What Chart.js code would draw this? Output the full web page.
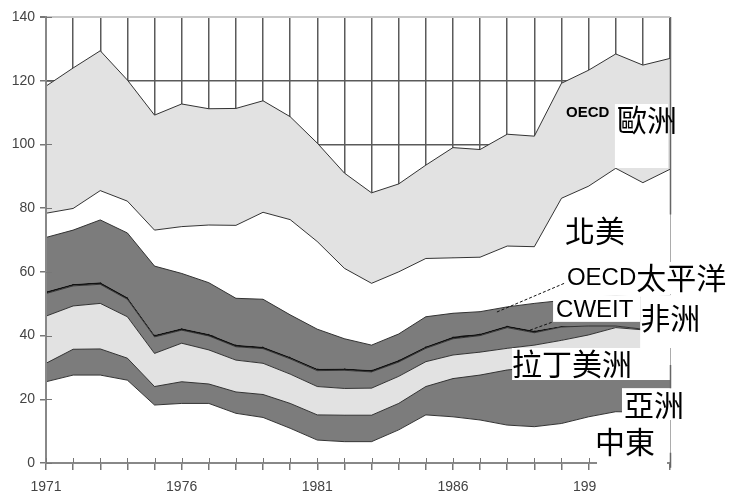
<!DOCTYPE html>
<html>
<head>
<meta charset="utf-8">
<script src="https://cdn.jsdelivr.net/npm/chart.js@4.4.1/dist/chart.umd.min.js"></script>
<style>
  body { margin: 0; background: #fff; }
  canvas { display: block; }
</style>
</head>
<body>
<canvas id="energia" width="733" height="495"></canvas>
<script>
// years on the x axis and which ones get a label
var years = [1971, 1972, 1973, 1974, 1975, 1976, 1977, 1978, 1979, 1980, 1981, 1982,
             1983, 1984, 1985, 1986, 1987, 1988, 1989, 1990, 1991, 1992, 1993, 1994];
var tickYears = [1971, 1976, 1981, 1986, 1991];
var yTicks = [0, 20, 40, 60, 80, 100, 120, 140];

// band thickness per region, bottom to top
var middleEast   = [25.5, 27.6, 27.6, 26.0, 18.2, 18.7, 18.7, 15.6, 14.3, 10.9, 7.2, 6.7, 6.7, 10.4, 15.1, 14.5, 13.5, 11.9, 11.4, 12.4, 14.5, 16.1, 16.0, 16.0];
var asia         = [5.8, 8.1, 8.2, 6.9, 5.8, 6.8, 6.1, 6.7, 7.2, 7.8, 7.9, 8.3, 8.3, 8.3, 8.9, 12.0, 14.1, 17.3, 18.6, 18.6, 17.5, 16.9, 17.0, 17.0];
var latinAmerica = [14.8, 13.6, 14.3, 13.0, 10.4, 12.1, 10.7, 10.0, 9.8, 9.2, 8.9, 8.4, 8.5, 8.5, 7.8, 7.4, 7.2, 6.8, 7.0, 7.5, 8.2, 9.5, 8.8, 9.0];
var africa       = [7.1, 6.3, 6.0, 5.5, 5.2, 4.1, 4.4, 4.2, 4.6, 4.8, 5.0, 5.7, 5.1, 4.5, 4.2, 5.1, 5.2, 6.5, 3.9, 4.2, 2.8, 0.5, 0.2, 0.2];
var cweit        = [0.6, 0.6, 0.6, 0.6, 0.6, 0.6, 0.6, 0.6, 0.6, 0.6, 0.6, 0.6, 0.6, 0.6, 0.6, 0.6, 0.6, 0.6, 0.6, 0.3, 0, 0, 0, 0];
var oecdPacific  = [17.0, 16.9, 19.6, 20.2, 21.6, 17.2, 16.1, 14.6, 14.9, 13.2, 12.4, 9.3, 7.8, 8.2, 9.3, 7.4, 6.9, 5.9, 8.6, 8.0, 9.0, 9.5, 10.0, 10.3];
var northAmerica = [7.6, 6.8, 9.2, 10.0, 11.3, 14.7, 18.1, 22.9, 27.3, 29.9, 27.5, 22.1, 19.4, 19.5, 18.3, 17.4, 17.1, 19.1, 17.8, 32.1, 34.9, 40.0, 36.0, 39.7];
var oecdEurope   = [39.9, 44.1, 43.9, 38.0, 36.1, 38.5, 36.5, 36.7, 35.0, 32.3, 30.9, 29.9, 28.4, 27.6, 29.3, 34.6, 33.8, 35.1, 34.7, 36.1, 36.4, 35.9, 36.9, 34.8];

var DARK = '#7c7c7c';
var LIGHT = '#e2e2e2';

var bands = [
  { label: '中東', values: middleEast, color: '#ffffff' },
  { label: '亞洲', values: asia, color: DARK },
  { label: '拉丁美洲', values: latinAmerica, color: LIGHT },
  { label: '非洲', values: africa, color: DARK },
  { label: 'CWEIT', values: cweit, color: '#111111', line: 0 },
  { label: 'OECD太平洋', values: oecdPacific, color: DARK },
  { label: '北美', values: northAmerica, color: '#ffffff' },
  { label: 'OECD歐洲', values: oecdEurope, color: LIGHT }
];

// running totals so each band fills down to the one below it
var running = years.map(function () { return 0; });
var datasets = bands.map(function (b, i) {
  running = running.map(function (s, j) { return s + b.values[j]; });
  return {
    label: b.label,
    data: running.slice(),
    backgroundColor: b.color,
    borderColor: '#333',
    borderWidth: b.line === 0 ? 0 : 1,
    fill: i === 0 ? 'origin' : '-1',
    pointRadius: 0,
    tension: 0
  };
});

var CJK = '30px "Noto Sans CJK TC"';
var LAT = '24px "Liberation Sans"';

// white label patches: [from year, to year, top value, bottom value]
var boxes = [
  [1991.97, 1993.93, 112.7, 92.6],
  [1989.69, 1992.9, 52.7, 44.3],
  [1992.9, 1995.1, 52.7, 36.1],
  [1988.18, 1994.0, 36.1, 26.05],
  [1992.23, 1994.07, 23.5, 13.5],
  [1990.02, 1996.32, 63.1, 53.0],
  [1991.31, 1993.89, 11.9, -10]
];

var labelSpec = [
  { x: 1990.17, y: 109.9, parts: [['OECD', 'bold 15px "Liberation Sans"']] },
  { x: 1992.05, y: 107.7, parts: [['歐洲', CJK]] },
  { x: 1990.13, y: 72.8, parts: [['北美', CJK]] },
  { x: 1990.2, y: 58.1, parts: [['OECD', LAT], ['太平洋', CJK]] },
  { x: 1989.8, y: 48.0, parts: [['CWEIT', LAT]] },
  { x: 1992.9, y: 45.5, parts: [['非洲', CJK]] },
  { x: 1988.18, y: 31.1, parts: [['拉丁美洲', CJK]] },
  { x: 1992.3, y: 18.2, parts: [['亞洲', CJK]] },
  { x: 1991.24, y: 6.6, parts: [['中東', CJK]] }
];

var overlay = {
  id: 'overlay',
  afterDraw: function (chart) {
    var ctx = chart.ctx;
    var area = chart.chartArea;
    var px = function (yr) { return chart.scales.x.getPixelForValue(yr - years[0]); };
    var py = function (v) { return chart.scales.y.getPixelForValue(v); };
    ctx.save();

    // tick marks reaching into the plot
    ctx.strokeStyle = '#777';
    ctx.lineWidth = 1;
    ctx.beginPath();
    years.forEach(function (yr) {
      var x = Math.round(px(yr)) + 0.5;
      ctx.moveTo(x, area.bottom);
      ctx.lineTo(x, area.bottom - 5);
    });
    yTicks.forEach(function (v) {
      var y = Math.round(py(v)) + 0.5;
      ctx.moveTo(area.left, y);
      ctx.lineTo(area.left + 6, y);
    });
    ctx.stroke();

    ctx.fillStyle = '#fff';
    boxes.forEach(function (b) {
      var x0 = px(b[0]), x1 = px(b[1]), y0 = py(b[2]), y1 = py(b[3]);
      ctx.fillRect(x0, y0, x1 - x0, y1 - y0);
    });

    // broken right frame
    var xr = Math.round(px(years[years.length - 1])) + 0.5;
    ctx.strokeStyle = '#666';
    ctx.lineWidth = 1.5;
    ctx.beginPath();
    [[140, 78], [30.8, 23.5], [3.2, -1.5]].forEach(function (s) {
      ctx.moveTo(xr, py(s[0]));
      ctx.lineTo(xr, py(s[1]));
    });
    ctx.stroke();

    // dashed leaders
    ctx.strokeStyle = '#111';
    ctx.lineWidth = 1;
    ctx.setLineDash([3, 2]);
    ctx.beginPath();
    ctx.moveTo(px(1987.62), py(47.4));
    ctx.lineTo(px(1990.13), py(56.5));
    ctx.moveTo(px(1988.84), py(41.7));
    ctx.lineTo(px(1989.69), py(44.3));
    ctx.stroke();
    ctx.setLineDash([]);

    ctx.fillStyle = '#000';
    ctx.textBaseline = 'middle';
    ctx.textAlign = 'left';
    labelSpec.forEach(function (l) {
      var x = px(l.x), y = py(l.y);
      l.parts.forEach(function (p) {
        ctx.font = p[1];
        ctx.fillText(p[0], x, y);
        x += ctx.measureText(p[0]).width;
      });
    });
    ctx.restore();
  }
};

new Chart(document.getElementById('energia'), {
  type: 'line',
  data: {
    labels: years,
    datasets: datasets
  },
  options: {
    responsive: false,
    animation: false,
    layout: { padding: { top: 17, right: 63, left: 0, bottom: 0 } },
    plugins: {
      legend: { display: false },
      tooltip: { enabled: false }
    },
    scales: {
      x: {
        type: 'category',
        offset: false,
        afterFit: function (scale) { scale.height = 32; },
        grid: {
          color: '#5a5a5a',
          lineWidth: 1.5,
          tickColor: '#777',
          tickLength: 7,
          drawTicks: true
        },
        border: { color: '#888', width: 2, z: 1 },
        ticks: {
          autoSkip: false,
          maxRotation: 0,
          padding: 9,
          color: '#444',
          font: { family: 'Liberation Sans', size: 14 },
          callback: function (value, index) {
            var yr = years[index];
            return tickYears.indexOf(yr) >= 0 ? String(yr) : '';
          }
        }
      },
      y: {
        min: yTicks[0],
        max: yTicks[yTicks.length - 1],
        afterFit: function (scale) { scale.width = 46; },
        grid: {
          color: function (c) { return c.tick && c.tick.value === 140 ? '#c8c8c8' : '#5a5a5a'; },
          lineWidth: function (c) { return c.tick && c.tick.value === 140 ? 2 : 1.5; },
          tickColor: '#777',
          tickLength: 6
        },
        border: { color: '#888', width: 2, z: 1 },
        ticks: {
          stepSize: yTicks[1] - yTicks[0],
          padding: 5,
          color: '#444',
          font: { family: 'Liberation Sans', size: 14 }
        }
      }
    }
  },
  plugins: [overlay]
});
</script>
</body>
</html>
